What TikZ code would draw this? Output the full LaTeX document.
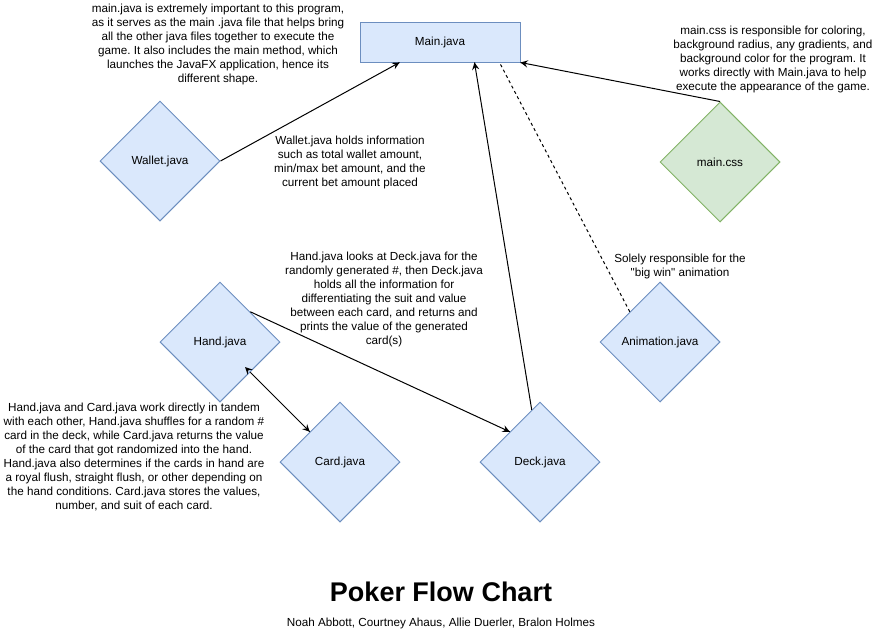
\documentclass[tikz,border=0pt]{standalone}
\usepackage{fontspec}
\setmainfont{Liberation Sans}[Ligatures=TeXOff]
\usetikzlibrary{positioning, arrows.meta, decorations.markings, shapes.geometric}
\definecolor{javafill}{HTML}{dae8fc}
\definecolor{javaline}{HTML}{6c8ebf}
\definecolor{cssfill}{HTML}{d5e8d4}
\definecolor{cssline}{HTML}{82b366}
\frenchspacing

\begin{document}
\begin{tikzpicture}[%
		x=1pt, y=-1pt,
		every node/.style={
			font=\fontsize{11.7}{14}\selectfont
		},
		mainfile/.style={
			rectangle,
			minimum width=160pt,
			minimum height=40pt,
			fill=javafill,
			draw=javaline,
			line width=1pt
		},
		javafile/.style={
			diamond,
			aspect=1,
			inner sep=0pt,
			minimum width=120pt,
			minimum height=120pt,
			fill=javafill,
			draw=javaline,
			line width=1pt
		},
		cssfile/.style={
			javafile,
			fill=cssfill,
			draw=cssline
		},
		note/.style={
			align=center,
			inner sep=0pt
		},
		flowarrow/.style={
			line width=1pt,
			decoration={markings,mark=at position 1 with {\arrow[scale=1.6,>=stealth]{>}}},
			postaction={decorate}
		},
		botharrow/.style={
			line width=1pt,
			decoration={markings,
				mark=at position 0 with {\arrow[scale=1.6,>=stealth]{<}},
				mark=at position 1 with {\arrow[scale=1.6,>=stealth]{>}}},
			postaction={decorate}
		},
		dashline/.style={
			line width=1pt,
			dash pattern=on 3pt off 3pt
		}]

		\useasboundingbox (0,0) rectangle (881,643);

		% FILES

		\node (main) [mainfile] at (440,42) {Main.java};
		\node (wallet) [javafile] at (160,161) {Wallet.java};
		\node (css) [cssfile] at (720,162) {main.css};
		\node (hand) [javafile] at (220,342) {Hand.java};
		\node (anim) [javafile] at (660,342) {Animation.java};
		\node (card) [javafile] at (340,462) {Card.java};
		\node (deck) [javafile] at (540,462) {Deck.java};

		% NOTES

		\node (mainnote) [note] at (218,44) {main.java is extremely important to this program,\\ as it serves as the main .java file that helps bring\\ all the other java files together to execute the\\ game. It also includes the main method, which\\ launches the JavaFX application, hence its\\ different shape.};
		\node (cssnote) [note] at (773,59) {main.css is responsible for coloring,\\ background radius, any gradients, and\\ background color for the program. It\\ works directly with Main.java to help\\ execute the appearance of the game.};
		\node (walletnote) [note] at (350,162) {Wallet.java holds information\\ such as total wallet amount,\\ min/max bet amount, and the\\ current bet amount placed};
		\node (decknote) [note] at (384,299) {Hand.java looks at Deck.java for the\\ randomly generated \#, then Deck.java\\ holds all the information for\\ differentiating the suit and value\\ between each card, and returns and\\ prints the value of the generated\\ card(s)};
		\node (cardnote) [note] at (134,457) {Hand.java and Card.java work directly in tandem\\ with each other, Hand.java shuffles for a random \#\\ card in the deck, while Card.java returns the value\\ of the card that got randomized into the hand.\\ Hand.java also determines if the cards in hand are\\ a royal flush, straight flush, or other depending on\\ the hand conditions. Card.java stores the values,\\ number, and suit of each card.};
		\node (animnote) [note] at (680,266) {Solely responsible for the\\ "big win" animation};

		% TITLE

		\node (title) at (441,592) {\fontsize{27}{31}\selectfont\bfseries Poker Flow Chart};
		\node (authors) at (441,623) {Noah Abbott, Courtney Ahaus, Allie Duerler, Bralon Holmes};

		% LINES

		\draw[flowarrow] (wallet.east) -- ([xshift=40pt]main.south west);
		\draw[flowarrow] (css.north) -- (main.south east);
		\draw[flowarrow] (deck.99) -- ([xshift=115pt]main.south west);
		\draw[dashline] (anim.135) -- ([xshift=140pt]main.south west);
		\draw[flowarrow] (hand.45) -- (deck.135);
		\draw[botharrow] (hand.-45) -- (card.135);
\end{tikzpicture}
\end{document}
